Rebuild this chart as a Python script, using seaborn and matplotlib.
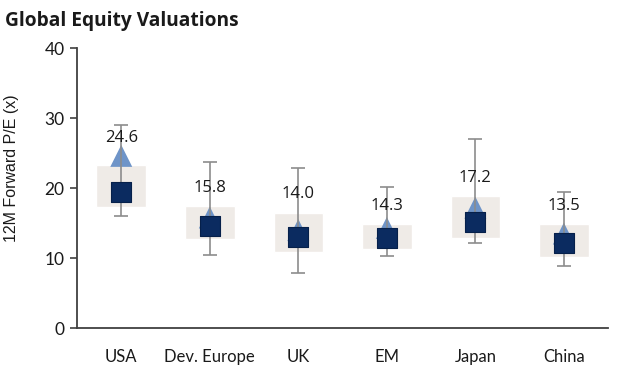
import numpy as np
import pandas as pd
import matplotlib
matplotlib.use("Agg")
import matplotlib.pyplot as plt
import seaborn as sns

# values
regions = ["USA", "Dev. Europe", "UK", "EM", "Japan", "China"]
current = [24.6, 15.8, 14.0, 14.3, 17.2, 13.5]
average = [19.4, 14.6, 13.0, 12.8, 15.1, 12.1]
range_low = [16.0, 10.4, 7.8, 10.3, 12.2, 8.8]
range_high = [29.0, 23.7, 22.8, 20.1, 27.0, 19.5]
band_low = [17.3, 12.7, 10.8, 11.3, 12.9, 10.2]
band_high = [23.3, 17.4, 16.5, 14.9, 18.8, 14.8]


def main():
    df = pd.DataFrame({
        "region": regions,
        "current": current,
        "average": average,
        "low": range_low,
        "high": range_high,
        "band_low": band_low,
        "band_high": band_high,
    })
    df["x"] = np.arange(len(df))

    sns.set_theme(style="white")
    plt.rcParams["font.family"] = ["Lato", "DejaVu Sans"]

    fig = plt.figure(figsize=(6.18, 3.67), dpi=100)
    ax = fig.add_axes([0.1246, 0.106, 0.8594, 0.763])

    # shaded band behind everything
    ax.bar(df["x"], df["band_high"] - df["band_low"], bottom=df["band_low"],
           width=0.56, color="#EFEBE7", zorder=1)

    # current value triangles
    sns.scatterplot(data=df, x="x", y="current", marker="^", s=250,
                    color="#6E94C8", edgecolor="none", ax=ax, zorder=2)

    # min-max whiskers
    ax.errorbar(df["x"], df["average"],
                yerr=[df["average"] - df["low"], df["high"] - df["average"]],
                fmt="none", ecolor="#8C8C8C", elinewidth=1.2, capsize=5,
                capthick=1.2, zorder=3)

    # average squares
    sns.scatterplot(data=df, x="x", y="average", marker="s", s=215,
                    color="#0B2B60", edgecolor="#06204A", linewidth=0.8,
                    ax=ax, zorder=4)

    for _, r in df.iterrows():
        top = max(r["band_high"], r["current"])
        ax.text(r["x"], top + 2.6, f"{r['current']:.1f}", ha="center", va="center",
                fontsize=12, color="#1a1a1a", family=["Open Sans", "DejaVu Sans"],
                zorder=5)

    ax.set_xlim(-0.5, 5.5)
    ax.set_ylim(0, 40)
    ax.set_yticks([0, 10, 20, 30, 40])
    ax.set_xticks(df["x"])
    ax.set_xticklabels(regions)
    ax.set_xlabel("")
    ax.set_ylabel("12M Forward P/E (x)", fontsize=11.5,
                  family=["Liberation Sans", "DejaVu Sans"], color="#1a1a1a")
    ax.yaxis.set_label_coords(-0.11, 0.57)

    for s in ["top", "right"]:
        ax.spines[s].set_visible(False)
    for s in ["left", "bottom"]:
        ax.spines[s].set_color("#404040")
        ax.spines[s].set_linewidth(1.3)
    ax.tick_params(axis="y", left=True, length=5, width=1.2, color="#404040",
                   labelsize=12.5, labelcolor="#1a1a1a", pad=4)
    ax.tick_params(axis="x", bottom=False, labelsize=12, labelcolor="#1a1a1a", pad=9)

    fig.text(0.008, 0.943, "Global Equity Valuations", fontsize=13.8,
             fontweight="bold", ha="left", va="center", color="#1a1a1a",
             family=["Open Sans", "DejaVu Sans"])

    fig.savefig("out.png", dpi=100)


if __name__ == "__main__":
    main()
